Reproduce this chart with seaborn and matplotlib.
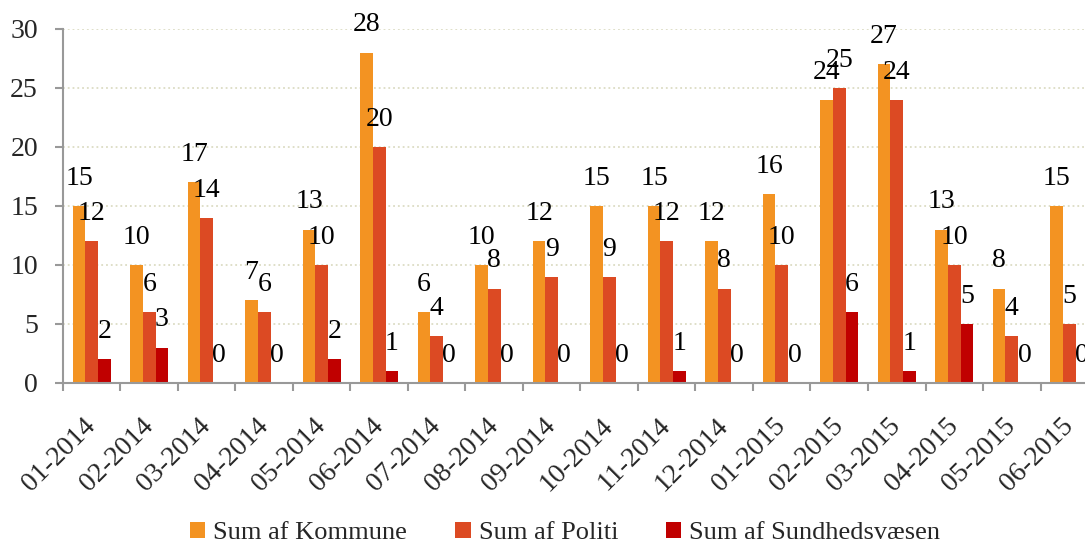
import numpy as np
import pandas as pd
import seaborn as sns
import matplotlib.pyplot as plt

months = ['01-2014', '02-2014', '03-2014', '04-2014', '05-2014', '06-2014',
          '07-2014', '08-2014', '09-2014', '10-2014', '11-2014', '12-2014',
          '01-2015', '02-2015', '03-2015', '04-2015', '05-2015', '06-2015']
kommune = [15, 10, 17, 7, 13, 28, 6, 10, 12, 15, 15, 12, 16, 24, 27, 13, 8, 15]
politi = [12, 6, 14, 6, 10, 20, 4, 8, 9, 9, 12, 8, 10, 25, 24, 10, 4, 5]
sundhed = [2, 3, 0, 0, 2, 1, 0, 0, 0, 0, 1, 0, 0, 6, 1, 5, 0, 0]
series = ['Sum af Kommune', 'Sum af Politi', 'Sum af Sundhedsvæsen']
colors = ['#F39322', '#DC4A23', '#C00000']

df = pd.DataFrame({'Maaned': months * 3,
                   'Serie': np.repeat(series, len(months)),
                   'Antal': kommune + politi + sundhed})

sns.set_style('white')
plt.rcParams['font.family'] = ['Liberation Serif', 'DejaVu Serif']

fig = plt.figure(figsize=(10.85, 5.42), dpi=100)
ax = fig.add_axes([0.058, 0.2934, 0.954, 0.6531])

sns.barplot(data=df, x='Maaned', y='Antal', hue='Serie', palette=colors,
            width=0.66, saturation=1, linewidth=0, ax=ax, legend=True)

for cont in ax.containers:
    ax.bar_label(cont, fmt='%d', padding=11, fontsize=20, color='black')

ax.set_ylim(0, 30)
ax.set_xlim(-0.5, len(months) - 0.5)
ax.set_yticks(range(0, 31, 5))
ax.set_xlabel('')
ax.set_ylabel('')
ax.yaxis.grid(True, linestyle=':', color='#DCDCC4', linewidth=1.3)
ax.set_axisbelow(True)

for side in ['top', 'right']:
    ax.spines[side].set_visible(False)
for side in ['left', 'bottom']:
    ax.spines[side].set_color('#999999')
    ax.spines[side].set_linewidth(1.5)

ax.tick_params(axis='y', labelsize=20, length=6, width=1.5, color='#999999', pad=12, left=True)
ax.set_xticks(np.arange(-0.5, len(months) - 1, 1), minor=True)
ax.tick_params(axis='x', which='minor', length=6, width=1.5, color='#999999', bottom=True)
ax.tick_params(axis='x', which='major', length=0, labelsize=20, pad=28)
plt.setp(ax.get_xticklabels(), rotation=45, ha='right', va='center', rotation_mode='anchor')

handles, labels = ax.get_legend_handles_labels()
ax.legend(handles, labels, loc='center', bbox_to_anchor=(0.485, -0.424),
          ncol=3, frameon=False, fontsize=19, handlelength=0.6, handleheight=0.6,
          handletextpad=0.3, columnspacing=1.8)

fig.savefig('out.png', dpi=100)
